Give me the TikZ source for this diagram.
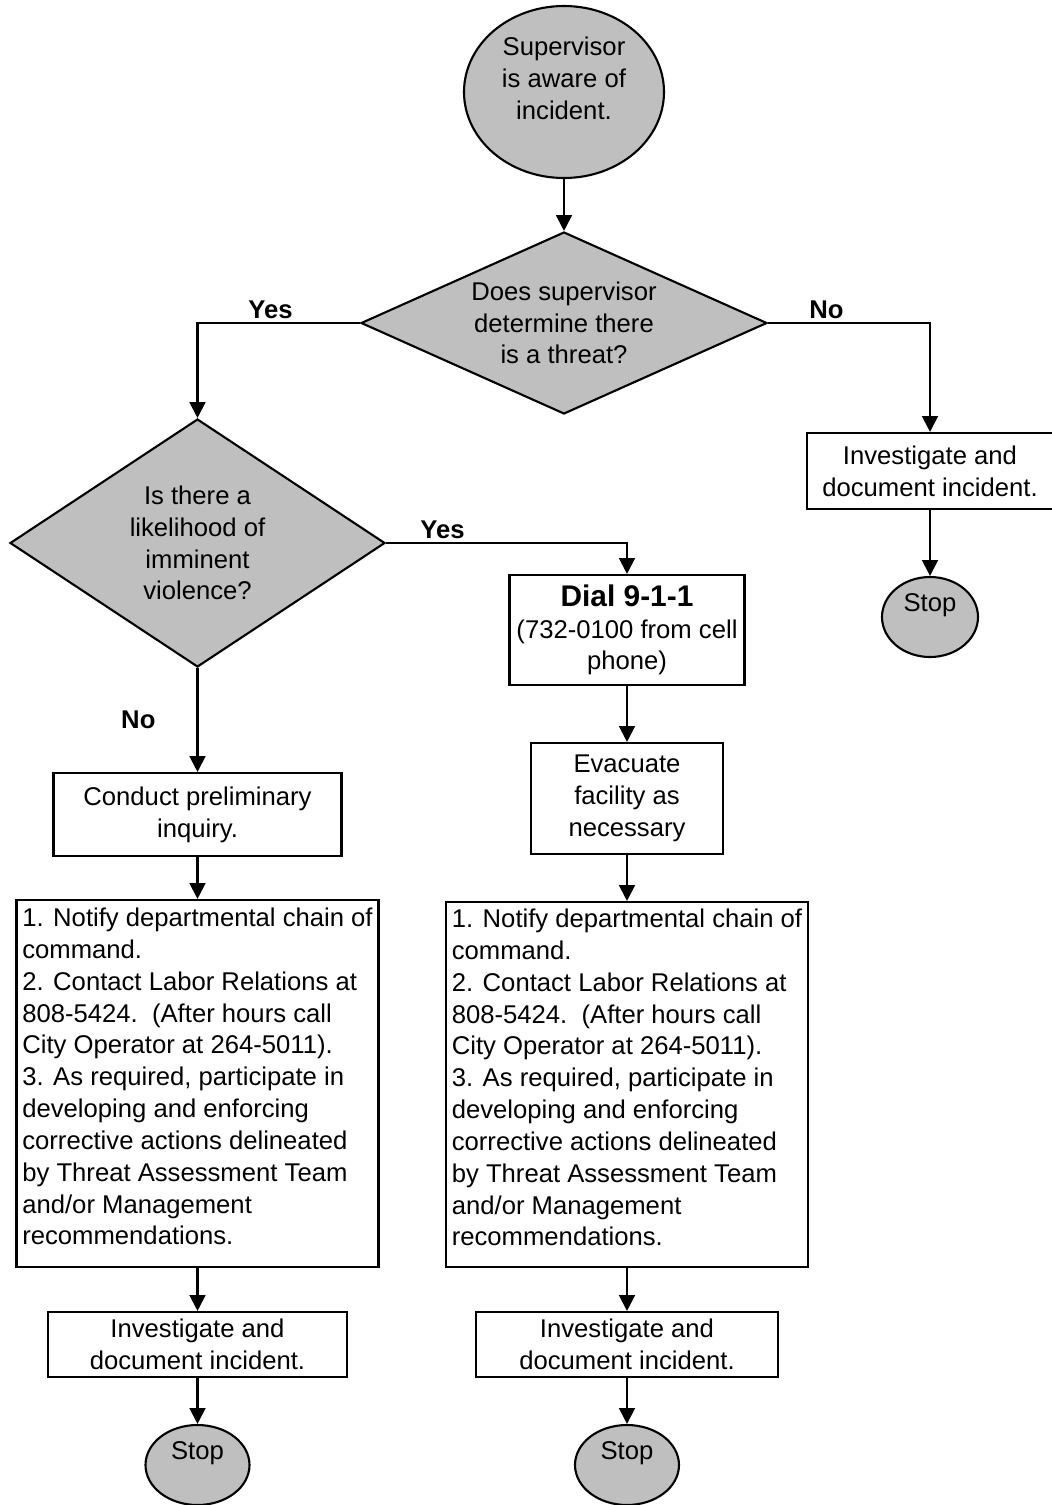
\documentclass[tikz,border=0pt]{standalone}
\usepackage{fontspec}
\setmainfont{Liberation Sans}
\usetikzlibrary{shapes.geometric,arrows.meta}

\newcommand{\actiontext}{1. Notify departmental chain of\\command.\\2. Contact Labor Relations at\\808-5424.\ \ (After hours call\\City Operator at 264-5011).\\3. As required, participate in\\developing and enforcing\\corrective actions delineated\\by Threat Assessment Team\\and/or Management\\recommendations.}

\begin{document}
\begin{tikzpicture}[
  every node/.style={font=\fontsize{14.6}{18.1}\selectfont},
  flow/.style={draw,line width=1.2pt,-{Triangle[length=9pt,width=9pt]}},
  terminal/.style={ellipse,draw,line width=1.2pt,fill=gray!50,inner sep=0pt,align=center,text depth=16pt},
  decision/.style={diamond,draw,line width=1.2pt,fill=gray!50,inner sep=0pt,align=center},
  process/.style={rectangle,draw,line width=1.2pt,fill=white,inner sep=3pt,align=center},
  actions/.style={process,align=left,text depth=8pt},
  answer/.style={font=\fontsize{14.6}{18.1}\selectfont\bfseries,inner sep=2pt}
]
\useasboundingbox (0,0) rectangle (21.04,-30.1);
%
\node[terminal,minimum width=4cm,minimum height=3.44cm](start) at (11.28,-1.84){Supervisor\\is aware of\\incident.};
\node[decision,aspect=2.23,minimum width=8.12cm,minimum height=3.64cm](threat) at (11.28,-6.46){Does supervisor\\determine there\\is a threat?};
\node[decision,aspect=1.51,minimum width=7.5cm,minimum height=4.96cm](imminent) at (3.95,-10.86){Is there a\\likelihood of\\imminent\\violence?};
%
\node[process,minimum width=4.92cm,minimum height=1.52cm](investR) at (18.6,-9.42){Investigate and\\document incident.};
\node[terminal,minimum width=1.92cm,minimum height=1.6cm](stopR) at (18.6,-12.34){Stop};
%
\node[process,minimum width=4.7cm,minimum height=2.2cm](dial) at (12.54,-12.6){{\fontsize{17}{20}\selectfont\bfseries Dial 9-1-1}\\(732-0100 from cell\\phone)};
\node[process,minimum width=3.84cm,minimum height=2.22cm](evacuate) at (12.54,-15.97){Evacuate\\facility as\\necessary};
\node[actions,minimum width=7.24cm,minimum height=7.3cm](notifyB) at (12.54,-21.69){\actiontext};
\node[process,minimum width=6.04cm,minimum height=1.3cm](investB) at (12.54,-26.89){Investigate and\\document incident.};
\node[terminal,minimum width=2.08cm,minimum height=1.6cm](stopB) at (12.54,-29.3){Stop};
%
\node[process,minimum width=5.76cm,minimum height=1.66cm](inquiry) at (3.95,-16.29){Conduct preliminary\\inquiry.};
\node[actions,minimum width=7.24cm,minimum height=7.34cm](notifyA) at (3.95,-21.67){\actiontext};
\node[process,minimum width=5.98cm,minimum height=1.3cm](investA) at (3.95,-26.89){Investigate and\\document incident.};
\node[terminal,minimum width=2.08cm,minimum height=1.6cm](stopA) at (3.95,-29.3){Stop};
%
\draw[flow](start)--(threat);
\draw[flow](threat.west)-|node[answer,pos=0.275,above]{Yes}(imminent.north);
\draw[flow](threat.east)-|node[answer,pos=0.18,above]{No}(investR.north);
\draw[flow](investR)--(stopR);
%
\draw[flow](imminent.east)-|node[answer,pos=0.117,above]{Yes}(dial.north);
\draw[flow](dial)--(evacuate);
\draw[flow](evacuate)--(notifyB);
\draw[flow](notifyB)--(investB);
\draw[flow](investB)--(stopB);
%
\draw[flow](imminent.south)--node[answer,midway,left=0.75cm]{No}(inquiry.north);
\draw[flow](inquiry)--(notifyA);
\draw[flow](notifyA)--(investA);
\draw[flow](investA)--(stopA);
\end{tikzpicture}
\end{document}
